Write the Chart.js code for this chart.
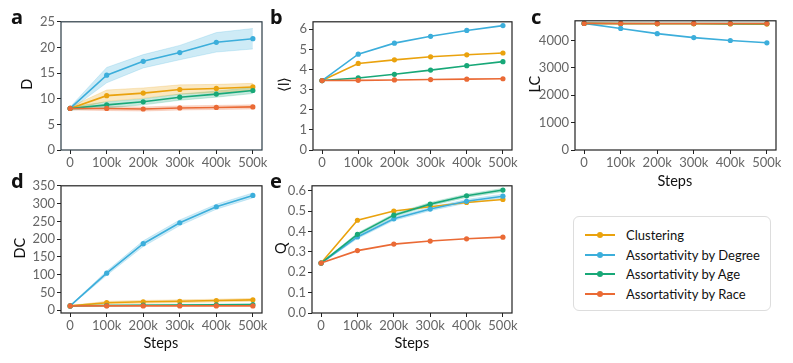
<!DOCTYPE html>
<html>
<head>
<meta charset="utf-8">
<script src="https://cdn.jsdelivr.net/npm/chart.js@4.4.1/dist/chart.umd.min.js"></script>
<style>
  body { margin: 0; background: #fff; }
  #wrap { position: relative; width: 793px; height: 363px; background: #fff; font-family: Lato, "Noto Sans", sans-serif; overflow: hidden; }
  #wrap canvas { position: absolute; }
  .letter { position: absolute; font-weight: bold; font-size: 20px; color: #111; font-family: "Noto Sans", sans-serif; line-height: 1; }
  .ytitle { position: absolute; font-size: 14.5px; color: #111; transform: rotate(-90deg); transform-origin: center; white-space: nowrap; line-height: 1; }
  .xtitle { position: absolute; font-size: 14.5px; color: #111; line-height: 1; }
  #legend { position: absolute; left: 573px; top: 216px; width: 198px; height: 95px; border: 1px solid #ddd; border-radius: 6px; box-sizing: border-box; }
  .item { position: absolute; left: 11px; height: 14px; font-size: 13px; color: #111; line-height: 14px; white-space: nowrap; }
  .item i { position: absolute; left: 0; top: 6px; width: 30px; height: 2px; }
  .item b { position: absolute; left: 12px; top: 4px; width: 6px; height: 6px; border-radius: 50%; }
  .item span { position: absolute; left: 41px; top: 0; }
</style>
</head>
<body>
<div id="wrap">
  <canvas id="cA"></canvas>
  <canvas id="cB"></canvas>
  <canvas id="cC"></canvas>
  <canvas id="cD"></canvas>
  <canvas id="cE"></canvas>
  <div id="legend"></div>
</div>
<script>
// x axis (steps)
const steps = [0, 100000, 200000, 300000, 400000, 500000];
const stepLabels = ['0', '100k', '200k', '300k', '400k', '500k'];

const seriesNames = ['Clustering', 'Assortativity by Degree', 'Assortativity by Age', 'Assortativity by Race'];
const seriesColors = ['#EAA20D', '#3CAEDB', '#18A878', '#EA6A35'];

// a: D
const dClustering = [8.1, 10.6, 11.1, 11.8, 12.0, 12.3];
const dDegree     = [8.1, 14.6, 17.3, 19.0, 21.0, 21.7];
const dAge        = [8.1, 8.8, 9.4, 10.3, 10.9, 11.6];
const dRace       = [8.1, 8.1, 8.0, 8.2, 8.3, 8.4];
const dClusteringErr = [0.3, 1.1, 1.0, 0.9, 0.8, 0.7];
const dDegreeErr     = [0.3, 1.5, 1.3, 1.4, 1.9, 2.0];
const dAgeErr        = [0.3, 0.6, 0.6, 0.6, 0.6, 0.6];
const dRaceErr       = [0.3, 0.4, 0.4, 0.4, 0.4, 0.4];
const dTicks = [0, 5, 10, 15, 20, 25];
const dTickLabels = ['0', '5', '10', '15', '20', '25'];

// b: <l>
const lClustering = [3.45, 4.30, 4.48, 4.63, 4.73, 4.82];
const lDegree     = [3.45, 4.76, 5.31, 5.65, 5.94, 6.18];
const lAge        = [3.45, 3.58, 3.76, 3.97, 4.19, 4.39];
const lRace       = [3.45, 3.46, 3.48, 3.50, 3.52, 3.54];
const lTicks = [0, 1, 2, 3, 4, 5, 6];
const lTickLabels = ['0', '1', '2', '3', '4', '5', '6'];

// c: LC
const lcClustering = [4625, 4615, 4610, 4610, 4605, 4600];
const lcDegree     = [4625, 4440, 4250, 4107, 4000, 3917];
const lcAge        = [4625, 4622, 4620, 4620, 4618, 4618];
const lcRace       = [4625, 4624, 4623, 4623, 4622, 4622];
const lcTicks = [0, 1000, 2000, 3000, 4000];
const lcTickLabels = ['0', '1000', '2000', '3000', '4000'];

// d: DC
const dcClustering = [12, 21, 23.5, 25, 27, 29];
const dcDegree     = [12, 104, 187, 246, 291, 323];
const dcAge        = [12, 13, 14, 14.5, 15, 15.5];
const dcRace       = [12, 12, 12, 12, 12, 12];
const dcClusteringErr = [1, 4, 4, 4, 4, 4];
const dcDegreeErr     = [1, 6, 8, 8, 7, 7];
const dcAgeErr        = [1, 2, 2, 2, 2, 2];
const dcTicks = [0, 50, 100, 150, 200, 250, 300, 350];
const dcTickLabels = ['0', '50', '100', '150', '200', '250', '300', '350'];

// e: Q
const qClustering = [0.245, 0.455, 0.500, 0.521, 0.542, 0.557];
const qDegree     = [0.245, 0.373, 0.462, 0.510, 0.548, 0.573];
const qAge        = [0.245, 0.386, 0.480, 0.534, 0.575, 0.603];
const qRace       = [0.245, 0.306, 0.338, 0.353, 0.364, 0.372];
const qDegreeErr  = [0.003, 0.008, 0.008, 0.008, 0.009, 0.010];
const qAgeErr     = [0.003, 0.006, 0.007, 0.008, 0.008, 0.008];
const qTicks = [0, 0.1, 0.2, 0.3, 0.4, 0.5, 0.6];
const qTickLabels = ['0.0', '0.1', '0.2', '0.3', '0.4', '0.5', '0.6'];

const Y_AXIS_W = 55, X_AXIS_H = 24, PAD_TOP = 6, PAD_RIGHT = 16;

function rgba(hex, a) {
    const n = parseInt(hex.slice(1), 16);
    return `rgba(${n >> 16},${(n >> 8) & 255},${n & 255},${a})`;
}

// frame round the plot area (matplotlib box)
const framePlugin = {
    id: 'frame',
    afterDraw(chart, args, opts) {
        const a = chart.chartArea, ctx = chart.ctx;
        ctx.save();
        ctx.strokeStyle = opts.color || '#222';
        ctx.lineWidth = 1.2;
        ctx.strokeRect(a.left, a.top, a.right - a.left, a.bottom - a.top);
        ctx.restore();
    }
};

function makePanel(id, rect, series, errs, yTicks, yLabels, yMin, yMax, frameColor) {
    const canvas = document.getElementById(id);
    const w = (rect.x1 - rect.x0) + Y_AXIS_W + PAD_RIGHT;
    const h = (rect.y1 - rect.y0) + PAD_TOP + X_AXIS_H;
    canvas.width = w; canvas.height = h;
    canvas.style.left = (rect.x0 - Y_AXIS_W) + 'px';
    canvas.style.top = (rect.y0 - PAD_TOP) + 'px';

    const datasets = [];
    series.forEach((vals, i) => {
        const err = errs[i];
        if (!err) return;
        datasets.push({
            data: steps.map((x, k) => ({ x, y: vals[k] + err[k] })),
            borderColor: rgba(seriesColors[i], 0.25), borderWidth: 0.8,
            pointRadius: 0, fill: false, order: 30 + i
        });
        datasets.push({
            data: steps.map((x, k) => ({ x, y: vals[k] - err[k] })),
            borderColor: rgba(seriesColors[i], 0.25), borderWidth: 0.8,
            backgroundColor: rgba(seriesColors[i], 0.25),
            pointRadius: 0, fill: '-1', order: 30 + i
        });
    });
    series.forEach((vals, i) => {
        datasets.push({
            data: steps.map((x, k) => ({ x, y: vals[k] })),
            borderColor: seriesColors[i], backgroundColor: seriesColors[i],
            borderWidth: 1.6, pointRadius: 2.6, pointBorderWidth: 0,
            fill: false, order: 10 - i
        });
    });

    return new Chart(canvas.getContext('2d'), {
        type: 'line',
        data: { datasets },
        plugins: [framePlugin],
        options: {
            responsive: false, animation: false, devicePixelRatio: 1,
            layout: { padding: { top: PAD_TOP, right: PAD_RIGHT, left: 0, bottom: 0 }, autoPadding: false },
            plugins: { legend: { display: false }, tooltip: { enabled: false }, frame: { color: frameColor } },
            scales: {
                x: {
                    type: 'linear', min: -25000, max: 525000,
                    afterBuildTicks: s => { s.ticks = steps.map(v => ({ value: v })); },
                    afterFit: s => { s.height = X_AXIS_H; },
                    ticks: { callback: (v, i) => stepLabels[i], autoSkip: false, maxRotation: 0, padding: 1,
                             color: '#666', font: { family: 'Lato', size: 13 } },
                    grid: { drawOnChartArea: false, tickLength: 4, color: '#222', tickWidth: 1 },
                    border: { display: false }
                },
                y: {
                    type: 'linear', min: yMin, max: yMax,
                    afterBuildTicks: s => { s.ticks = yTicks.map(v => ({ value: v })); },
                    afterFit: s => { s.width = Y_AXIS_W; },
                    ticks: { callback: (v, i) => yLabels[i], autoSkip: false, padding: 2,
                             color: '#666', font: { family: 'Lato', size: 13 } },
                    grid: { drawOnChartArea: false, tickLength: 4, color: '#222', tickWidth: 1 },
                    border: { display: false }
                }
            }
        }
    });
}

makePanel('cA', { x0: 61, x1: 262, y0: 18, y1: 150 },
    [dClustering, dDegree, dAge, dRace], [dClusteringErr, dDegreeErr, dAgeErr, dRaceErr],
    dTicks, dTickLabels, 0, 25, '#2b3b45');
makePanel('cB', { x0: 313, x1: 512, y0: 18, y1: 150 },
    [lClustering, lDegree, lAge, lRace], [null, null, null, null],
    lTicks, lTickLabels, 0, 6.37, '#222');
makePanel('cC', { x0: 575, x1: 776, y0: 17, y1: 150 },
    [lcClustering, lcDegree, lcAge, lcRace], [null, null, null, null],
    lcTicks, lcTickLabels, 0, 4720, '#222');
makePanel('cD', { x0: 61, x1: 262, y0: 182, y1: 313 },
    [dcClustering, dcDegree, dcAge, dcRace], [dcClusteringErr, dcDegreeErr, dcAgeErr, null],
    dcTicks, dcTickLabels, -8, 350, '#222');
makePanel('cE', { x0: 312, x1: 512, y0: 182, y1: 313 },
    [qClustering, qDegree, qAge, qRace], [null, qDegreeErr, qAgeErr, null],
    qTicks, qTickLabels, 0, 0.624, '#222');

// panel letters and axis titles
const wrap = document.getElementById('wrap');
function addText(cls, txt, left, top) {
    const d = document.createElement('div');
    d.className = cls; d.textContent = txt;
    d.style.left = left + 'px'; d.style.top = top + 'px';
    wrap.appendChild(d);
    return d;
}
[['a', 11, 7], ['b', 270, 7], ['c', 531, 7], ['d', 11, 171], ['e', 270, 171]]
    .forEach(([t, x, y]) => addText('letter', t, x, y));

function addYTitle(txt, cx, cy) {
    const d = addText('ytitle', txt, 0, 0);
    d.style.left = (cx - d.offsetWidth / 2) + 'px';
    d.style.top = (cy - d.offsetHeight / 2) + 'px';
}
addYTitle('D', 27, 84);
addYTitle('\u27E8l\u27E9', 284, 84);
addYTitle('LC', 535, 84);
addYTitle('DC', 20, 248);
addYTitle('Q', 281, 248);

function addXTitle(txt, cx, top) {
    const d = addText('xtitle', txt, 0, top);
    d.style.left = (cx - d.offsetWidth / 2) + 'px';
}
addXTitle('Steps', 675, 174);
addXTitle('Steps', 161, 336);
addXTitle('Steps', 412, 336);

// legend
const legend = document.getElementById('legend');
seriesNames.forEach((name, i) => {
    const it = document.createElement('div');
    it.className = 'item';
    it.style.top = (11 + i * 19.7) + 'px';
    it.innerHTML = `<i style="background:${seriesColors[i]}"></i><b style="background:${seriesColors[i]}"></b><span>${name}</span>`;
    legend.appendChild(it);
});
</script>
</body>
</html>
